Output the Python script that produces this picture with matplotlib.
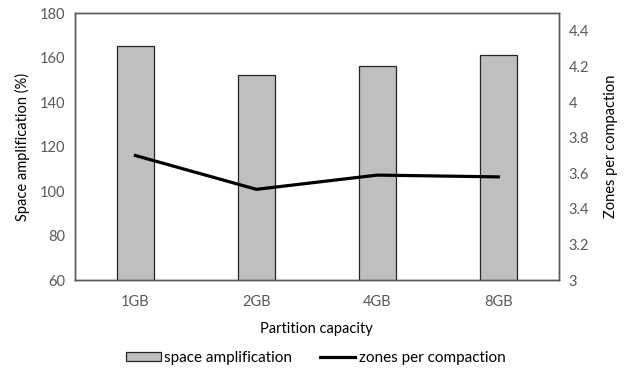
import matplotlib
matplotlib.use("Agg")
import matplotlib.pyplot as plt
import numpy as np

# data
capacities = ["1GB", "2GB", "4GB", "8GB"]
space_amp = [165, 152, 156, 161]
zones_per_compaction = [3.70, 3.51, 3.59, 3.58]

plt.rcParams["font.family"] = ["Lato", "DejaVu Sans"]
grau = "#595959"

fig = plt.figure(figsize=(6.35, 3.74), dpi=100)
ax = fig.add_axes([0.118, 0.251, 0.762, 0.714])
ax2 = ax.twinx()

x = np.arange(len(capacities))
bars = ax.bar(x, space_amp, width=0.31, color="#bfbfbf", edgecolor="#262626",
              linewidth=0.9, label="space amplification", zorder=2)
line, = ax2.plot(x, zones_per_compaction, color="black", linewidth=2.3,
                 label="zones per compaction", zorder=3)

ax.set_xlim(-0.5, len(capacities) - 0.5)
ax.set_ylim(60, 180)
ax.set_yticks(range(60, 181, 20))
ax2.set_ylim(3, 4.5)
ax2.set_yticks([3, 3.2, 3.4, 3.6, 3.8, 4, 4.2, 4.4])
ax2.set_yticklabels(["3", "3.2", "3.4", "3.6", "3.8", "4", "4.2", "4.4"])
ax.set_xticks(x)
ax.set_xticklabels(capacities)

for a in (ax, ax2):
    a.tick_params(length=0, labelsize=10.5, labelcolor=grau, pad=7)
    for s in a.spines.values():
        s.set_color(grau)
        s.set_linewidth(1.0)
ax.tick_params(axis="x", pad=11)

ax.set_ylabel("Space amplification (%)", fontsize=10.5, labelpad=7)
ax2.set_ylabel("Zones per compaction", fontsize=10.5, labelpad=11)
ax.set_xlabel("Partition capacity", fontsize=10.5, labelpad=9)

fig.legend(handles=[bars, line], loc="center", bbox_to_anchor=(0.497, 0.043),
           ncol=2, frameon=False, fontsize=11, handlelength=2.3,
           handleheight=0.5, handletextpad=0.25, columnspacing=1.8)

plt.savefig("out.png", dpi=100)
